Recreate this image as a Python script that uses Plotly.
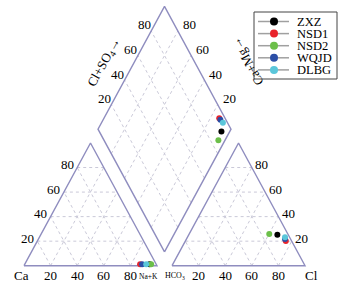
import numpy as np
import plotly.graph_objects as go

# ---------------- data (meq %) ----------------
series = ["ZXZ", "NSD1", "NSD2", "WQJD", "DLBG"]
colors = ["#000000", "#e8232b", "#6cbf4a", "#2b4ea6", "#5ac6da"]
ca = [5.0, 12.1, 3.8, 10.6, 7.5]
mg = [1.2, 1.2, 1.2, 1.2, 1.2]
nak = [93.8, 86.7, 95.0, 88.2, 91.3]
hco3 = [8.2, 4.4, 14.0, 4.2, 3.5]
so4 = [25.2, 20.1, 25.8, 21.8, 23.1]
cl = [66.6, 75.5, 60.2, 74.0, 73.4]
ticks = [20, 40, 60, 80]
tick_labels = ["20", "40", "60", "80"]

# ---------------- geometry ----------------
H = np.sqrt(3) / 2
GAP = 11.3
OX = 100 + GAP
BX, BY = 100 + GAP / 2, GAP / 2 * np.sqrt(3)
SX, SY = 1.33, 1.4169          # px per unit
X0PX, Y0PX = 24, 265.7
W, HPX = 356, 288

FONT = "Liberation Serif, Times New Roman, serif"
OUTLINE = "#8f8dbf"
GRID = "#cac9d8"


def px2u(px, py):
    return (px - X0PX) / SX, (Y0PX - py) / SY


def left_xy(n, m):
    return n + m / 2, m * H


def right_xy(c, s):
    return OX + c + s / 2, s * H


def dia_xy(a, c):
    # a: Cl+SO4 %, c: Ca+Mg %
    return BX + 0.5 * a - 0.5 * c, BY + H * (a + c)


fig = go.Figure()


def line(xs, ys, color, width, dash=None):
    fig.add_trace(go.Scatter(x=xs, y=ys, mode="lines", hoverinfo="skip", showlegend=False,
                             line=dict(color=color, width=width, dash=dash)))


# grids
for k in ticks:
    for ox in (0, OX):
        line([ox + k / 2, ox + 100 - k / 2], [k * H, k * H], GRID, 1, "dot")
        line([ox + k, ox + k + (100 - k) / 2], [0, (100 - k) * H], GRID, 1, "dot")
        line([ox + 100 - k, ox + (100 - k) / 2], [0, (100 - k) * H], GRID, 1, "dot")
    p0 = dia_xy(k, 0); p1 = dia_xy(k, 100)
    line([p0[0], p1[0]], [p0[1], p1[1]], GRID, 1, "dot")
    p0 = dia_xy(0, k); p1 = dia_xy(100, k)
    line([p0[0], p1[0]], [p0[1], p1[1]], GRID, 1, "dot")

# outlines
for ox in (0, OX):
    line([ox, ox + 100, ox + 50, ox], [0, 0, 100 * H, 0], OUTLINE, 1.4)
d = [dia_xy(0, 0), dia_xy(100, 0), dia_xy(100, 100), dia_xy(0, 100), dia_xy(0, 0)]
line([p[0] for p in d], [p[1] for p in d], OUTLINE, 1.4)

# data points
for i, name in enumerate(series):
    lx, ly = left_xy(nak[i], mg[i])
    rx, ry = right_xy(cl[i], so4[i])
    dx, dy = dia_xy(so4[i] + cl[i], ca[i] + mg[i])
    fig.add_trace(go.Scatter(x=[lx, rx, dx], y=[ly, ry, dy], mode="markers", name=name,
                             showlegend=False, marker=dict(color=colors[i], size=6)))

ann = []


def text(x, y, s, size=13, angle=0, xanchor="center"):
    ann.append(dict(x=x, y=y, xref="x", yref="y", text=s, showarrow=False, textangle=angle,
                    xanchor=xanchor, yanchor="middle",
                    font=dict(family=FONT, size=size, color="#000000")))


def off(p, dxp, dyp):
    return p[0] + dxp / SX, p[1] - dyp / SY


for k, t in zip(ticks, tick_labels):
    # left triangle
    text(*off((k, 0), 0, 10), t)
    text(*off((k / 2, k * H), -10, -3), t)
    # right triangle
    text(*off((OX + k, 0), 0, 10), t)
    text(*off((OX + 100 - k / 2, k * H), 10, -3), t)
    # diamond
    text(*off(dia_xy(k, 100), -7, -6), t)
    text(*off(dia_xy(100, k), 11.5, -6), t)

text(*px2u(21, 275.7), "Ca")
text(*px2u(148.5, 276), "Na+K", size=7.5)
text(*px2u(174.5, 276), "HCO<sub>3</sub>", size=8)
text(*px2u(311, 275.7), "Cl")
text(*px2u(104, 62), "Cl+SO<sub>4</sub>→", angle=-61)
text(*px2u(247, 62), "Ca+Mg→", angle=-119)

# manual legend
shapes = [dict(type="rect", xref="paper", yref="paper", x0=254 / W, x1=337 / W,
               y0=1 - 79 / HPX, y1=1 - 12 / HPX, line=dict(color="#444444", width=1),
               fillcolor="rgba(255,255,255,0)")]
for i, name in enumerate(series):
    py = 21.5 + 12.1 * i
    shapes.append(dict(type="line", xref="paper", yref="paper", x0=258 / W, x1=289 / W,
                       y0=1 - py / HPX, y1=1 - py / HPX, line=dict(color="#a0a0a0", width=1.5)))
    shapes.append(dict(type="circle", xref="paper", yref="paper", x0=270 / W, x1=278 / W,
                       y0=1 - (py + 4) / HPX, y1=1 - (py - 4) / HPX,
                       fillcolor=colors[i], line=dict(color=colors[i], width=0)))
    ann.append(dict(x=295 / W, y=1 - py / HPX, xref="paper", yref="paper", text=name,
                    showarrow=False, xanchor="left", yanchor="middle",
                    font=dict(family=FONT, size=12.5, color="#000000")))

fig.update_layout(
    width=W, height=HPX, margin=dict(l=0, r=0, t=0, b=0),
    paper_bgcolor="white", plot_bgcolor="white",
    xaxis=dict(range=[-X0PX / SX, (W - X0PX) / SX], visible=False, fixedrange=True),
    yaxis=dict(range=[-(HPX - Y0PX) / SY, Y0PX / SY], visible=False, fixedrange=True),
    annotations=ann, shapes=shapes, showlegend=False,
)
fig.write_html("out.html", config={"displayModeBar": False},
               post_script="document.body.style.margin='0';")
